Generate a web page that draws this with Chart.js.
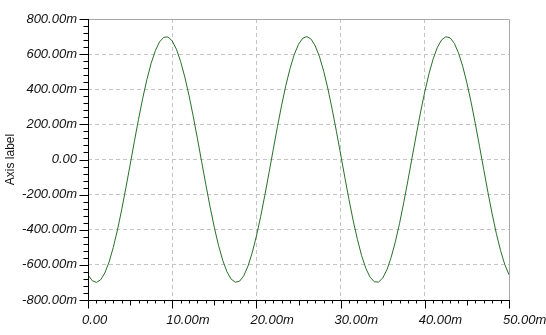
<!DOCTYPE html>
<html>
<head>
<meta charset="utf-8">
<script src="https://cdn.jsdelivr.net/npm/chart.js@4/dist/chart.umd.min.js"></script>
<style>
  html, body { margin: 0; padding: 0; background: #fff; }
  canvas { display: block; }
</style>
</head>
<body>
<canvas id="waveChart" width="546" height="335"></canvas>
<script>
// time in ms (x axis shows "m" suffix)
const timeMs = [
    0, 0.5, 1, 1.5, 2, 2.5, 3, 3.5, 4, 4.5,
    5, 5.5, 6, 6.5, 7, 7.5, 8, 8.5, 9, 9.5,
    10, 10.5, 11, 11.5, 12, 12.5, 13, 13.5, 14, 14.5,
    15, 15.5, 16, 16.5, 17, 17.5, 18, 18.5, 19, 19.5,
    20, 20.5, 21, 21.5, 22, 22.5, 23, 23.5, 24, 24.5,
    25, 25.5, 26, 26.5, 27, 27.5, 28, 28.5, 29, 29.5,
    30, 30.5, 31, 31.5, 32, 32.5, 33, 33.5, 34, 34.5,
    35, 35.5, 36, 36.5, 37, 37.5, 38, 38.5, 39, 39.5,
    40, 40.5, 41, 41.5, 42, 42.5, 43, 43.5, 44, 44.5,
    45, 45.5, 46, 46.5, 47, 47.5, 48, 48.5, 49, 49.5,
    50
];

// signal in milli-units
const signal = [
    -656, -690, -700, -685, -646, -584, -501, -401, -286, -161,
    -31, 101, 229, 349, 456, 548, 620, 670, 696, 698,
    675, 628, 558, 469, 364, 245, 118, -13, -144, -270,
    -386, -489, -574, -639, -681, -699, -693, -662, -607, -531,
    -436, -326, -204, -75, 57, 187, 310, 422, 519, 598,
    656, 690, 700, 685, 646, 584, 501, 401, 286, 161,
    31, -101, -229, -349, -456, -548, -620, -670, -696, -698,
    -675, -628, -558, -469, -364, -245, -118, 13, 144, 270,
    386, 489, 574, 639, 681, 699, 693, 662, 607, 531,
    436, 326, 204, 75, -57, -187, -310, -422, -519, -598,
    -656
];

const yTicks = [-800, -600, -400, -200, 0, 200, 400, 600, 800];
const xTicks = [0, 10, 20, 30, 40, 50];

function fmtMilli(v) {
    if (v === 0) return '0.00';
    return v.toFixed(2) + 'm';
}

// axes with minor ticks, plus grey frame on top/right
const axisPlugin = {
    id: 'axisPlugin',
    afterDraw(chart) {
        const ctx = chart.ctx;
        const area = chart.chartArea;
        const xs = chart.scales.x;
        const ys = chart.scales.y;
        ctx.save();

        ctx.strokeStyle = '#a8a8a8';
        ctx.lineWidth = 1;
        ctx.beginPath();
        ctx.moveTo(area.left, area.top + 0.5);
        ctx.lineTo(area.right + 0.5, area.top + 0.5);
        ctx.lineTo(area.right + 0.5, area.bottom);
        ctx.stroke();

        ctx.strokeStyle = '#000';
        ctx.beginPath();
        ctx.moveTo(area.left + 0.5, area.top);
        ctx.lineTo(area.left + 0.5, area.bottom + 0.5);
        ctx.lineTo(area.right + 1, area.bottom + 0.5);
        ctx.stroke();

        // y ticks: major every 200, minor every 40
        ctx.beginPath();
        for (let v = ys.min; v <= ys.max + 0.01; v += 40) {
            const py = Math.round(ys.getPixelForValue(v)) + 0.5;
            const len = (Math.round(v) % 200 === 0) ? 9 : 5;
            ctx.moveTo(area.left + 0.5, py);
            ctx.lineTo(area.left + 0.5 - len, py);
        }
        // x ticks: major every 10, medium every 5, minor every 1
        for (let v = xs.min; v <= xs.max + 0.01; v += 1) {
            const px = Math.round(xs.getPixelForValue(v)) + 0.5;
            let len = 3;
            if (v % 10 === 0) len = 8;
            else if (v % 5 === 0) len = 5;
            ctx.moveTo(px, area.bottom + 0.5);
            ctx.lineTo(px, area.bottom + 0.5 + len);
        }
        ctx.stroke();
        ctx.restore();
    }
};

const whiteBg = {
    id: 'whiteBg',
    beforeDraw(chart) {
        const ctx = chart.ctx;
        ctx.save();
        ctx.fillStyle = '#fff';
        ctx.fillRect(0, 0, chart.width, chart.height);
        ctx.restore();
    }
};

const points = timeMs.map((t, i) => ({ x: t, y: signal[i] }));

const tickFont = { family: 'Liberation Sans, Arial, sans-serif', size: 13, style: 'italic' };

new Chart(document.getElementById('waveChart').getContext('2d'), {
    type: 'line',
    data: {
        datasets: [{
            data: points,
            borderColor: '#2a6f2a',
            borderWidth: 1,
            pointRadius: 0,
            tension: 0,
            fill: false
        }]
    },
    options: {
        responsive: false,
        animation: false,
        layout: { padding: { top: 19, right: 37, bottom: 0, left: 0 } },
        plugins: {
            legend: { display: false },
            tooltip: { enabled: false }
        },
        scales: {
            x: {
                type: 'linear',
                min: 0,
                max: 50,
                afterFit(scale) {
                    scale.height = 35;
                    scale.paddingLeft = 0;
                    scale.paddingRight = 0;
                },
                afterBuildTicks(scale) { scale.ticks = xTicks.map(v => ({ value: v })); },
                border: { display: false, dash: [4, 3] },
                grid: {
                    drawTicks: false,
                    color: c => (c.tick && (c.tick.value === 0 || c.tick.value === 50)) ? 'rgba(0,0,0,0)' : '#c4c4c4',
                    lineWidth: 1
                },
                ticks: {
                    padding: 13,
                    align: 'start',
                    labelOffset: -6,
                    color: '#111',
                    font: tickFont,
                    maxRotation: 0,
                    callback: v => fmtMilli(v)
                }
            },
            y: {
                min: -800,
                max: 800,
                afterFit(scale) { scale.width = 88; },
                afterBuildTicks(scale) { scale.ticks = yTicks.map(v => ({ value: v })); },
                border: { display: false, dash: [4, 3] },
                grid: {
                    drawTicks: false,
                    color: c => (c.tick && Math.abs(c.tick.value) === 800) ? 'rgba(0,0,0,0)' : '#c4c4c4',
                    lineWidth: 1
                },
                ticks: {
                    padding: 11,
                    color: '#111',
                    font: tickFont,
                    callback: v => fmtMilli(v)
                },
                title: {
                    display: true,
                    text: 'Axis label',
                    color: '#111',
                    font: { family: 'Liberation Sans, Arial, sans-serif', size: 12 },
                    padding: { top: 3, bottom: 0 }
                }
            }
        }
    },
    plugins: [whiteBg, axisPlugin]
});
</script>
</body>
</html>
